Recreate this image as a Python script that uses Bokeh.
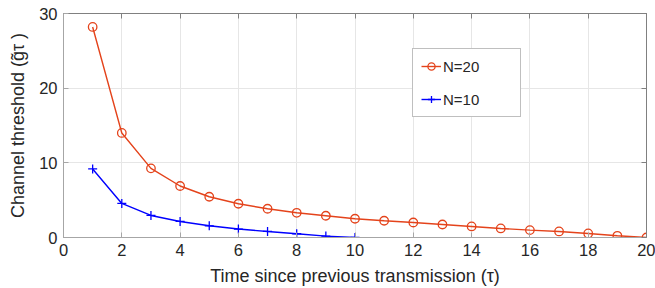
from bokeh.plotting import figure
from bokeh.models import LinearAxis, Legend, LegendItem, Range1d, FixedTicker
from bokeh.embed import file_html
from bokeh.resources import INLINE

tau20 = list(range(1, 21))
g20 = [28.2, 14.0, 9.26, 6.9, 5.46, 4.52, 3.85, 3.31, 2.91, 2.51,
       2.24, 2.01, 1.74, 1.48, 1.21, 0.99, 0.81, 0.54, 0.23, 0.0]
tau10 = list(range(1, 11))
g10 = [9.18, 4.56, 2.95, 2.15, 1.57, 1.13, 0.81, 0.5, 0.19, 0.0]
xticks = [0, 2, 4, 6, 8, 10, 12, 14, 16, 18, 20]
yticks = [0, 10, 20, 30]

RED = "#E4431B"
BLUE = "#0000FF"
FONT = "Liberation Sans"
TXT = "#262626"
AX = "#a6a6a6"

p = figure(width=655, height=288, output_backend="svg", toolbar_location=None,
           x_range=Range1d(0, 20), y_range=Range1d(0, 30),
           min_border_left=63, min_border_right=9, min_border_top=13,
           min_border_bottom=51)
p.outline_line_color = "#808080"
p.background_fill_color = "white"

for ax in (p.xaxis[0], p.yaxis[0]):
    ax.major_label_text_font = FONT
    ax.major_label_text_font_size = "16.5px"
    ax.major_label_text_color = TXT
    ax.major_label_text_line_height = 1.0
    ax.axis_label_text_font = FONT
    ax.axis_label_text_font_size = "18px"
    ax.axis_label_text_font_style = "normal"
    ax.axis_label_text_color = TXT
    ax.axis_label_text_line_height = 1.0
    ax.axis_line_color = AX
    ax.major_tick_line_color = AX
    ax.major_tick_in = 5
    ax.major_tick_out = 0
    ax.minor_tick_line_color = None

p.xaxis[0].ticker = FixedTicker(ticks=xticks)
p.yaxis[0].ticker = FixedTicker(ticks=yticks)
p.xaxis[0].axis_label = "Time since previous transmission (\u03c4)"
p.yaxis[0].axis_label = "Channel threshold (g\u0303\u03c4 )"
p.xaxis[0].axis_label_standoff = 7
p.yaxis[0].axis_label_standoff = 8
p.xaxis[0].major_label_standoff = 6
p.yaxis[0].major_label_standoff = 6

for loc, ticks in (("right", yticks), ("above", xticks)):
    a = LinearAxis(ticker=FixedTicker(ticks=ticks), major_label_text_font_size="1px",
                   major_label_text_color=None,
                   axis_line_color="#808080", major_tick_line_color="#808080",
                   major_tick_in=5, major_tick_out=0, minor_tick_line_color=None,
                   major_label_standoff=0)
    p.add_layout(a, loc)

p.xgrid.ticker = FixedTicker(ticks=xticks)
p.ygrid.ticker = FixedTicker(ticks=yticks)
p.grid.grid_line_color = "#e6e6e6"
p.grid.grid_line_width = 1

l20 = p.line(tau20, g20, line_color=RED, line_width=1.4)
m20 = p.scatter(tau20, g20, marker="circle", size=8.5, line_color=RED,
                fill_color=None, line_width=1.3)
l10 = p.line(tau10, g10, line_color=BLUE, line_width=1.4)
m10 = p.scatter(tau10, g10, marker="cross", size=9, line_color=BLUE, line_width=1.3)

legend = Legend(items=[LegendItem(label="N=20", renderers=[l20, m20]),
                       LegendItem(label="N=10", renderers=[l10, m10])],
                location=(349, 120), padding=8, spacing=15, label_height=18,
                glyph_height=18, glyph_width=20, label_standoff=2, label_width=69,
                label_text_font=FONT, label_text_font_size="15px",
                label_text_color=TXT, border_line_color="#808080",
                background_fill_alpha=1.0, margin=0)
p.add_layout(legend)

open("out.html", "w").write(file_html(p, INLINE))
